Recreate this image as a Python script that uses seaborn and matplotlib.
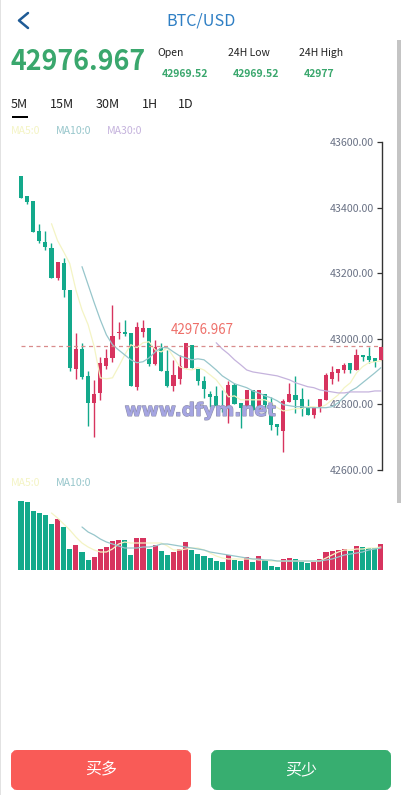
import numpy as np
import pandas as pd
import matplotlib.pyplot as plt
import matplotlib.patheffects as pe
import seaborn as sns
from matplotlib.patches import FancyBboxPatch, Rectangle

# candle data
opens = [43497,43435,43421,43329,43296,43278,43186,43232,43149,42908,
         42969,42887,42805,42835,42918,42942,43018,43021,43018,42854,
         43021,43034,42924,42973,42902,42857,42878,42912,42982,42908,
         42872,42832,42826,42796,42793,42860,42805,42790,42844,42787,
         42832,42805,42741,42719,42808,42829,42817,42790,42768,42793,
         42814,42878,42896,42905,42927,42905,42951,42948,42942,42936]
closes = [43430,43418,43326,43299,43281,43186,43235,43149,42912,42969,
          42884,42805,42832,42927,42942,43009,43021,43015,42857,43037,
          43034,42924,42976,42902,42857,42890,42918,42988,42912,42872,
          42847,42823,42796,42787,42860,42802,42790,42844,42783,42844,
          42799,42738,42732,42811,42832,42814,42787,42768,42793,42817,
          42890,42899,42908,42921,42905,42951,42945,42936,42930,42976]
highs = [43497,43435,43421,43351,43329,43293,43235,43247,43149,43018,
         42988,42902,42875,42945,42969,43104,43052,43058,43018,43052,
         43058,43034,42997,42988,42966,42936,42951,42988,42982,42908,
         42887,42841,42857,42844,42872,42866,42805,42844,42844,42844,
         42832,42823,42741,42817,42866,42887,42851,42817,42793,42817,
         42896,42918,42908,42927,42927,42969,42951,42976,42942,42976]
lows = [43430,43412,43326,43293,43271,43186,43180,43128,42902,42878,
        42878,42735,42701,42814,42908,42930,43000,43009,42857,42844,
        43006,42918,42921,42902,42854,42841,42863,42912,42912,42860,
        42820,42793,42793,42777,42744,42802,42729,42790,42783,42787,
        42774,42722,42707,42655,42808,42774,42765,42768,42759,42777,
        42814,42863,42872,42896,42896,42905,42933,42927,42915,42936]

# moving averages start part way along the series
ma5 = [43351,43299,43265,43229,43149,43088,43043,42976,42881,42878,42881,42915,42951,42982,
       42973,42988,42991,42966,42960,42973,42945,42915,42908,42905,42912,42905,42890,42875,
       42851,42823,42826,42814,42814,42814,42814,42814,42805,42790,42780,42783,42787,42787,
       42793,42793,42790,42799,42814,42829,42851,42866,42896,42915,42927,42930,42933]
ma10 = [43220,43165,43110,43058,43012,42982,42966,42951,42936,42927,42930,42942,42960,42973,
        42973,42960,42948,42942,42936,42939,42936,42921,42905,42887,42875,42863,42857,42851,
        42841,42835,42826,42820,42811,42799,42796,42793,42793,42790,42790,42790,42790,42793,
        42805,42823,42841,42851,42866,42881,42896,42912]
ma30 = [42988,42969,42954,42936,42921,42905,42899,42896,42893,42890,42887,42881,42875,42866,
        42860,42854,42851,42844,42841,42838,42835,42835,42838,42838,42838,42838,42841,42841]

volume = [69,68,59,57,55,46,51,43,21,25,18,10,13,21,23,29,30,30,15,32,
          32,21,25,19,15,18,21,28,20,16,14,12,9,8,15,10,9,13,8,14,
          10,4,3,11,12,11,8,7,8,11,18,19,20,21,19,24,23,22,22,26]
vol_ma5 = [57,52,46,40,33,27,23,20,18,18,21,26,28,27,27,27,27,27,27,24,20,20,21,22,22,
           20,17,14,12,11,11,11,11,11,10,10,9,9,9,9,9,9,9,9,9,12,15,18,20,20,21,21,22,22,23]
vol_ma10 = [43,38,35,31,28,26,24,22,22,22,23,23,24,26,26,25,24,23,22,21,
            20,18,17,16,15,14,13,12,11,11,10,10,9,9,9,9,9,9,9,9,10,11,13,15,16,17,18,20,21,22]

price_ticks = [43600, 43400, 43200, 43000, 42800, 42600]
last_price = 42976.967
tabs = ['5M', '15M', '30M', '1H', '1D']
tab_x = [11, 50, 96, 142, 178]
stat_names = ['Open', '24H Low', '24H High']
stat_values = ['42969.52', '42969.52', '42977']

GREEN = '#13a98b'
RED = '#d7345f'
MA5_C = '#f4f4c4'
MA10_C = '#97c6cb'
MA30_C = '#c5b3dd'
TEXT_GREEN = '#3aa76d'

sns.set_theme(style='white')
plt.rcParams['font.family'] = ['Noto Sans CJK SC', 'DejaVu Sans']

W, H = 402, 795
fig = plt.figure(figsize=(W / 100, H / 100), dpi=100)


def px_axes(left, top, right, bottom):
    return fig.add_axes([left / W, 1 - bottom / H, (right - left) / W, (bottom - top) / H])


# page furniture, in pixel coordinates
ui = px_axes(0, 0, W, H)
ui.set_xlim(0, W)
ui.set_ylim(H, 0)
ui.axis('off')
ui.add_patch(Rectangle((0, 0), 1.2, H, color='#e2e2e2', lw=0))
ui.add_patch(Rectangle((397, 40), 5, 463, color='#c4c4c4', lw=0))
ui.plot([28, 19, 28], [13, 20.5, 28], color='#1f5b96', lw=1.8)
ui.text(201, 20.5, 'BTC/USD', color='#2f7fc4', fontsize=11.6, ha='center', va='center')
ui.text(11, 62, '42976.967', color=TEXT_GREEN, fontsize=19.3, fontweight='bold', va='center')
for x, name in zip([157, 228, 299], stat_names):
    ui.text(x, 53, name, color='#222222', fontsize=7.5, va='center')
for x, val in zip([162, 233, 304], stat_values):
    ui.text(x, 74, val, color=TEXT_GREEN, fontsize=7.5, fontweight='bold', va='center')
for x, tab in zip(tab_x, tabs):
    ui.text(x, 104, tab, color='#222222', fontsize=9, va='center')
ui.add_patch(Rectangle((12, 116), 16, 1.6, color='black', lw=0))
for x, name, c in zip([11, 56, 107], ['MA5:0', 'MA10:0', 'MA30:0'], [MA5_C, MA10_C, MA30_C]):
    ui.text(x, 131, name, color=c, fontsize=7.6, va='center')
for x, name, c in zip([11, 56], ['MA5:0', 'MA10:0'], [MA5_C, MA10_C]):
    ui.text(x, 483, name, color=c, fontsize=7.6, va='center')
for x, c, label in [(11, '#f95b57', '买多'), (211, '#37ae70', '买少')]:
    ui.add_patch(FancyBboxPatch((x + 3, 753), 174, 34, boxstyle='round,pad=0,rounding_size=3',
                                mutation_aspect=1, facecolor=c, edgecolor=c, lw=6 * 0.72))
    ui.text(x + 90, 770, label, color='white', fontsize=11.5, ha='center', va='center')

idx = np.arange(len(opens))
xlim = (-21 / 6.1, 361 / 6.1)

# candles
ax = px_axes(0, 142, 382, 470)
ax.patch.set_alpha(0)
o, c = np.array(opens), np.array(closes)
colors = [RED if b >= a else GREEN for a, b in zip(opens, closes)]
ax.vlines(idx, lows, highs, colors=colors, lw=1.0, zorder=2)
ax.bar(idx, np.maximum(np.abs(c - o), 3), bottom=np.minimum(o, c), width=0.68, color=colors, lw=0,
       zorder=3, clip_on=False)
sns.lineplot(x=idx[5:], y=ma5, ax=ax, color=MA5_C, lw=0.9, zorder=4)
sns.lineplot(x=idx[10:], y=ma10, ax=ax, color=MA10_C, lw=0.9, zorder=4)
sns.lineplot(x=idx[32:], y=ma30, ax=ax, color=MA30_C, lw=0.9, zorder=4)
ax.axhline(last_price, color='#d98c8c', lw=0.9, ls=(0, (3.2, 2.8)), zorder=5, xmin=21 / 382)
ax.text(24.6, last_price + 28, '42976.967', color='#ee6f69', fontsize=9.6, va='bottom', zorder=6)
ax.text(17, 42780, 'www.dfym.net', color='#a5a5e2', fontsize=13.3, fontweight='bold',
        family='DejaVu Sans', va='center', zorder=7,
        path_effects=[pe.withStroke(linewidth=0.8, foreground='#8f8fa8')])
ax.set_xlim(*xlim)
ax.set_ylim(42600, 43600)
ax.set_yticks(price_ticks)
ax.set_yticklabels([f'{t:.2f}' for t in price_ticks])
ax.set_xticks([])
ax.set_xlabel('')
ax.set_ylabel('')
for name in ['top', 'right', 'bottom']:
    ax.spines[name].set_visible(False)
ax.spines['left'].set_position(('axes', 1))
ax.spines['left'].set_color('#333333')
ax.spines['left'].set_linewidth(1.0)
ax.tick_params(axis='y', left=True, direction='out', length=3.6, width=0.9, color='#333333',
               labelsize=7.6, labelcolor='#6a7285', pad=2)

# volume
vax = px_axes(0, 500, 382, 570)
vax.patch.set_alpha(0)
vol_df = pd.DataFrame({'idx': idx, 'volume': volume,
                       'side': ['up' if b >= a else 'down' for a, b in zip(opens, closes)]})
sns.barplot(data=vol_df, x='idx', y='volume', hue='side', palette={'up': RED, 'down': GREEN},
            native_scale=True, dodge=False, width=0.82, saturation=1, legend=False, ax=vax, lw=0)
for bar in vax.patches:
    bar.set_clip_on(False)
sns.lineplot(x=idx[5:], y=vol_ma5, ax=vax, color=MA5_C, lw=0.9, zorder=4)
sns.lineplot(x=idx[10:], y=vol_ma10, ax=vax, color=MA10_C, lw=0.9, zorder=4)
vax.set_xlim(*xlim)
vax.set_ylim(0, 70)
vax.axis('off')

fig.savefig('out.png', dpi=100)
